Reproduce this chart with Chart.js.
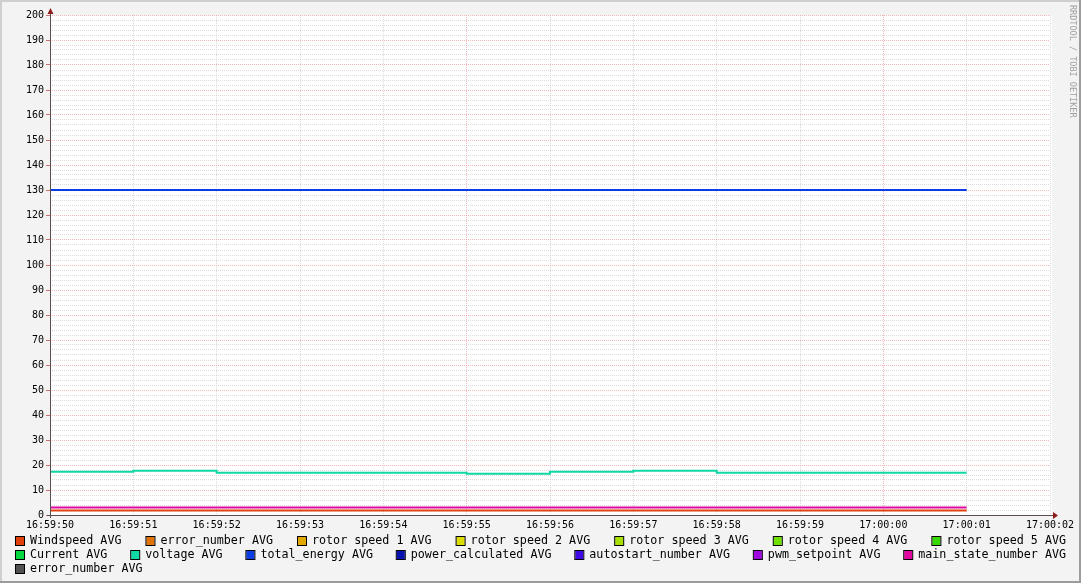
<!DOCTYPE html>
<html><head><meta charset="utf-8">
<script src="https://cdn.jsdelivr.net/npm/chart.js@4/dist/chart.umd.min.js"></script>
<style>html,body{margin:0;padding:0;background:#f3f3f3;overflow:hidden}canvas{display:block}</style>
</head><body>
<canvas id="c" width="1081" height="583"></canvas>
<script>
// ---- data ----
const timeLabels = ['16:59:50','16:59:51','16:59:52','16:59:53','16:59:54','16:59:55','16:59:56','16:59:57','16:59:58','16:59:59','17:00:00','17:00:01','17:00:02'];
const seriesNames = ['Windspeed AVG','error_number AVG','rotor speed 1 AVG','rotor speed 2 AVG','rotor speed 3 AVG','rotor speed 4 AVG','rotor speed 5 AVG','Current AVG','voltage AVG','total_energy AVG','power_calculated AVG','autostart_number AVG','pwm_setpoint AVG','main_state_number AVG','error_number AVG'];
const seriesColors = ['#e0400c','#e07406','#e0a800','#dcdc00','#a8e000','#70e000','#38d800','#08d840','#10d8a4','#0c3ce4','#0810b0','#4008e4','#a008e0','#e008a0','#505050'];
const windspeed = [1.8,1.8,1.8,1.8,1.8,1.8,1.8,1.8,1.8,1.8,1.8,1.8];
const errorNumber = [];
const rotorSpeed1 = [];
const rotorSpeed2 = [];
const rotorSpeed3 = [];
const rotorSpeed4 = [];
const rotorSpeed5 = [];
const current = [];
const voltage = [17.3,17.7,16.9,16.9,16.9,16.5,17.3,17.7,16.9,16.9,16.9,16.9];
const totalEnergy = [130,130,130,130,130,130,130,130,130,130,130,130];
const powerCalculated = [];
const autostartNumber = [];
const pwmSetpoint = [];
const mainStateNumber = [3,3,3,3,3,3,3,3,3,3,3,3];
const errorNumber2 = [];
const seriesValues = [windspeed,errorNumber,rotorSpeed1,rotorSpeed2,rotorSpeed3,rotorSpeed4,rotorSpeed5,current,voltage,totalEnergy,powerCalculated,autostartNumber,pwmSetpoint,mainStateNumber,errorNumber2];
const yMin = 0, yMax = 200, yMinorStep = 2, yMajorStep = 10, xMajorEvery = 5;

// ---- styles ----
const MONO = "'DejaVu Sans Mono', monospace";
const MINOR = 'rgba(200,200,200,0.65)';
const MAJOR = 'rgba(230,145,145,0.65)';
const AXIS = '#5a4d4d';
const ARROW = '#8e1c1c';

const framePlugin = {
  id: 'frame',
  beforeDraw(chart) {
    const c = chart.ctx, a = chart.chartArea;
    c.save();
    c.fillStyle = '#f3f3f3';
    c.fillRect(0, 0, chart.width, chart.height);
    c.fillStyle = '#cfcfcf';
    c.fillRect(0, 0, chart.width, 2);
    c.fillRect(0, 0, 2, chart.height);
    c.fillStyle = '#9c9c9c';
    c.fillRect(0, chart.height - 2, chart.width, 2);
    c.fillRect(chart.width - 2, 0, 2, chart.height);
    c.fillStyle = '#ffffff';
    c.fillRect(a.left, a.top, a.right - a.left + 2, a.bottom - a.top);
    c.restore();
  },
  afterDraw(chart) {
    const c = chart.ctx, a = chart.chartArea;
    c.save();
    // axes
    c.strokeStyle = AXIS; c.lineWidth = 1;
    c.beginPath();
    c.moveTo(a.left - 3, a.bottom + 0.5); c.lineTo(a.right + 5, a.bottom + 0.5);
    c.moveTo(a.left + 0.5, a.bottom + 3); c.lineTo(a.left + 0.5, a.top - 5);
    c.stroke();
    c.fillStyle = ARROW;
    c.beginPath();
    c.moveTo(a.right + 3, a.bottom - 3); c.lineTo(a.right + 8, a.bottom + 0.5); c.lineTo(a.right + 3, a.bottom + 4); c.closePath(); c.fill();
    c.beginPath();
    c.moveTo(a.left - 2.5, a.top - 1); c.lineTo(a.left + 0.5, a.top - 7); c.lineTo(a.left + 3.5, a.top - 1); c.closePath(); c.fill();
    // watermark
    c.translate(chart.width - 9, 5);
    c.rotate(Math.PI / 2);
    c.font = '8.5px ' + MONO;
    c.fillStyle = '#a0a0a0';
    c.textBaseline = 'middle';
    c.textAlign = 'left';
    c.fillText('RRDTOOL / TOBI OETIKER', 0, 0);
    c.restore();
    // legend
    c.save();
    c.font = '11.7px ' + MONO;
    c.textBaseline = 'middle';
    c.textAlign = 'left';
    const rows = [[0,1,2,3,4,5,6],[7,8,9,10,11,12,13],[14]];
    const rowY = [541, 555, 569];
    const L = 15, R = 1066, BOXW = 15;
    rows.forEach((row, ri) => {
      const ds = chart.data.datasets;
      const widths = row.map(i => BOXW + c.measureText(ds[i].label).width);
      const sum = widths.reduce((s, w) => s + w, 0);
      const gap = (ri < rows.length - 1 && row.length > 1) ? (R - L - sum) / (row.length - 1) : 20;
      let x = L;
      row.forEach((i, k) => {
        const y = rowY[ri];
        c.fillStyle = ds[i].borderColor;
        c.fillRect(x + 1, y - 4, 8, 8);
        c.strokeStyle = '#000'; c.lineWidth = 1;
        c.strokeRect(x + 0.5, y - 4.5, 9, 9);
        c.fillStyle = '#000';
        c.fillText(ds[i].label, x + BOXW, y);
        x += widths[k] + gap;
      });
    });
    c.restore();
  }
};

new Chart(document.getElementById('c'), {
  type: 'line',
  data: {
    labels: timeLabels,
    datasets: seriesNames.map((n, i) => ({
      label: n,
      data: seriesValues[i],
      borderColor: seriesColors[i],
      backgroundColor: seriesColors[i],
      borderWidth: 2,
      pointRadius: 0,
      stepped: 'before',
      fill: false,
      spanGaps: false
    }))
  },
  options: {
    responsive: false,
    animation: false,
    events: [],
    layout: { padding: { top: 15, right: 31, left: 0, bottom: 0 } },
    plugins: { legend: { display: false }, tooltip: { enabled: false } },
    scales: {
      x: {
        type: 'category',
        offset: false,
        grid: {
          color: c => (c.index % xMajorEvery === 0 ? MAJOR : MINOR),
          lineWidth: 1,
          tickLength: 2,
          tickColor: 'rgba(0,0,0,0)',
          borderDash: [1, 1]
        },
        border: { display: false, dash: [1, 1] },
        ticks: { autoSkip: false, maxRotation: 0, minRotation: 0, padding: 2, color: '#000', font: { family: MONO, size: 10 } },
        afterFit(s) { s.height = 68; }
      },
      y: {
        min: yMin, max: yMax,
        grid: {
          color: c => (c.tick && Math.round(c.tick.value) % yMajorStep === 0 ? MAJOR : MINOR),
          tickColor: c => (c.tick && Math.round(c.tick.value) % yMajorStep === 0 ? '#d07070' : 'rgba(0,0,0,0)'),
          lineWidth: 1,
          tickLength: 4,
          borderDash: [1, 1]
        },
        border: { display: false, dash: [1, 1] },
        ticks: {
          stepSize: yMinorStep,
          maxTicksLimit: 1000,
          autoSkip: false,
          padding: 2,
          color: '#000',
          font: { family: MONO, size: 10 },
          callback: v => (Math.round(v) % yMajorStep === 0 ? String(Math.round(v)) : '')
        },
        afterFit(s) { s.width = 50; }
      }
    }
  },
  plugins: [framePlugin]
});
</script>
</body></html>
